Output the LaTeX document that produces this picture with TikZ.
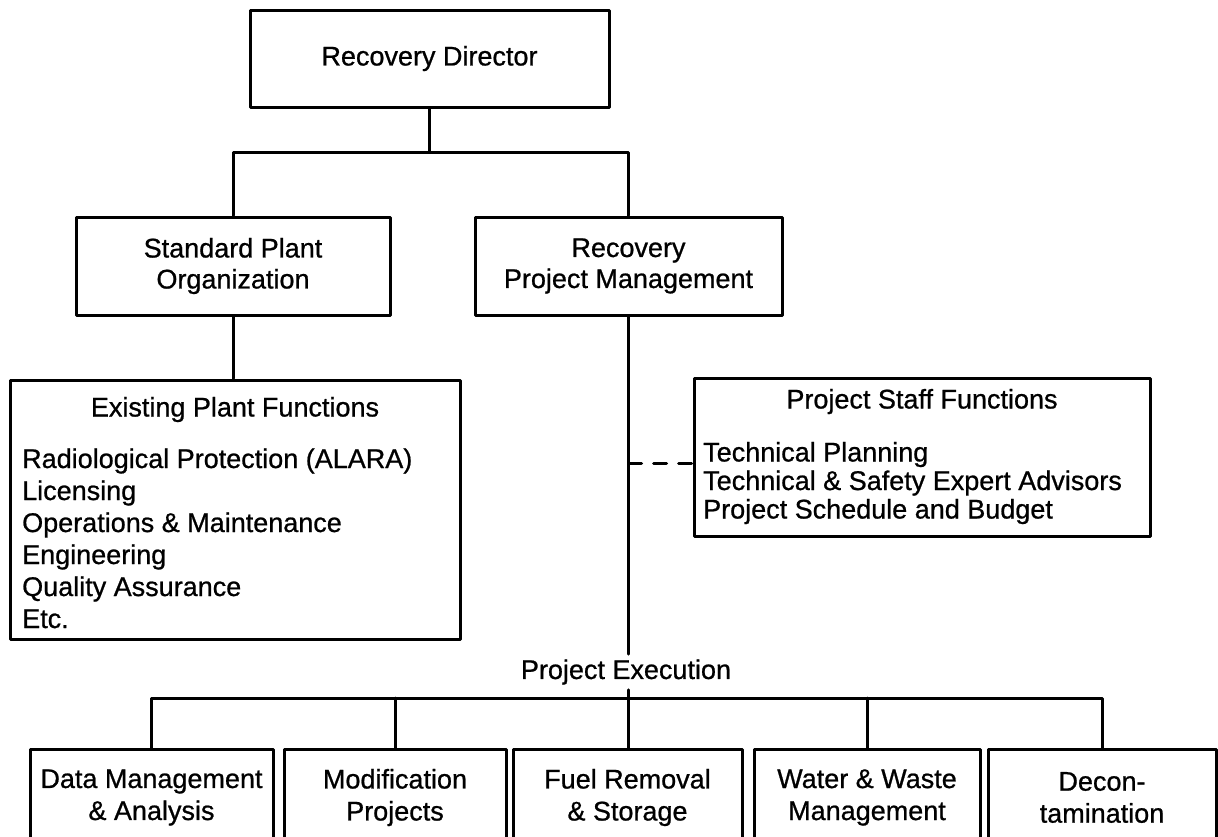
\documentclass[tikz,border=0pt]{standalone}
\usepackage{fontspec}
\setmainfont{Liberation Sans}[FakeBold=0.8]
\usetikzlibrary{positioning}
\tikzset{
  orgbox/.style={draw, line width=3pt, align=center, inner sep=0pt,
    font=\fontsize{27}{31}\selectfont},
  botbox/.style={orgbox, anchor=north, minimum height=96pt,
    font=\fontsize{27}{32}\selectfont},
  listbox/.style={draw, line width=3pt, inner sep=0pt},
  headtxt/.style={anchor=base, inner sep=0pt, font=\fontsize{27}{30}\selectfont},
  itemtxt/.style={anchor=base west, inner sep=0pt, font=\fontsize{27}{30}\selectfont},
  conn/.style={line width=3pt},
  every picture/.style={line cap=round, line join=round}
}

\begin{document}
\begin{tikzpicture}[x=1pt, y=-1pt]
  \useasboundingbox (0,0) rectangle (1218,836);
  \clip (0,0) rectangle (1218,836);

  % Director and the two branches
  \node[orgbox, minimum width=359pt, minimum height=97pt] (rd) at (429.5,58.5) {Recovery Director};
  \node[orgbox, minimum width=314pt, minimum height=98pt] (spo) at (233,266) {Standard Plant\\Organization};
  \node[orgbox, minimum width=307pt, minimum height=98pt] (rpm) at (628.5,266) {Recovery\\Project Management};
  \coordinate (split) at (429.5,152);
  \draw[conn] (rd.south) -- (split);
  \draw[conn] (spo.north) |- (split) -| (rpm.north);

  % Existing plant functions
  \node[listbox, minimum width=450pt, minimum height=259pt] (epf) at (235,509.5) {};
  \node[headtxt] (epfhead) at (235,416.5) {Existing Plant Functions};
  \foreach \txt [count=\i] in {Radiological Protection (ALARA), Licensing,
      Operations \& Maintenance, Engineering, Quality Assurance, Etc.}
    \node[itemtxt] (epf\i) at (22,436+32*\i) {\txt};
  \draw[conn] (spo.south) -- (spo.south |- epf.north);

  % Project staff functions
  \node[listbox, minimum width=456pt, minimum height=158pt] (psf) at (922,457) {};
  \node[headtxt] (psfhead) at (922,408.5) {Project Staff Functions};
  \foreach \txt [count=\i] in {Technical Planning,
      Technical \& Safety Expert Advisors, Project Schedule and Budget}
    \node[itemtxt] (psf\i) at (703,433+28.5*\i) {\txt};
  \coordinate (tap) at (628.5,463);
  \draw[conn, dash pattern=on 13pt off 12pt] (tap) -- (tap -| psf.west);

  % Project execution
  \node[inner xsep=2pt, inner ysep=5pt, font=\fontsize{27}{30}\selectfont] (pe) at (626,672) {Project Execution};
  \draw[conn] (rpm.south) -- (rpm.south |- pe.north);
  \node[botbox, minimum width=243pt] (dm) at (151.5,748) {Data Management\\\& Analysis};
  \node[botbox, minimum width=222pt] (mod) at (395,748) {Modification\\Projects};
  \node[botbox, minimum width=229pt] (fuel) at (627.5,748) {Fuel Removal\\\& Storage};
  \node[botbox, minimum width=226pt] (ww) at (867,748) {Water \& Waste\\Management};
  \node[botbox, minimum width=228pt] (dec) at (1102,748) {Decon-\\tamination};
  \coordinate (bar) at (628.5,698);
  \draw[conn] (rpm.south |- pe.south) -- (rpm.south |- fuel.north);
  \draw[conn] (dm.north) |- (bar) -| (dec.north);
  \draw[conn] (mod.north) -- (mod.north |- bar);
  \draw[conn] (ww.north) -- (ww.north |- bar);
\end{tikzpicture}
\end{document}
